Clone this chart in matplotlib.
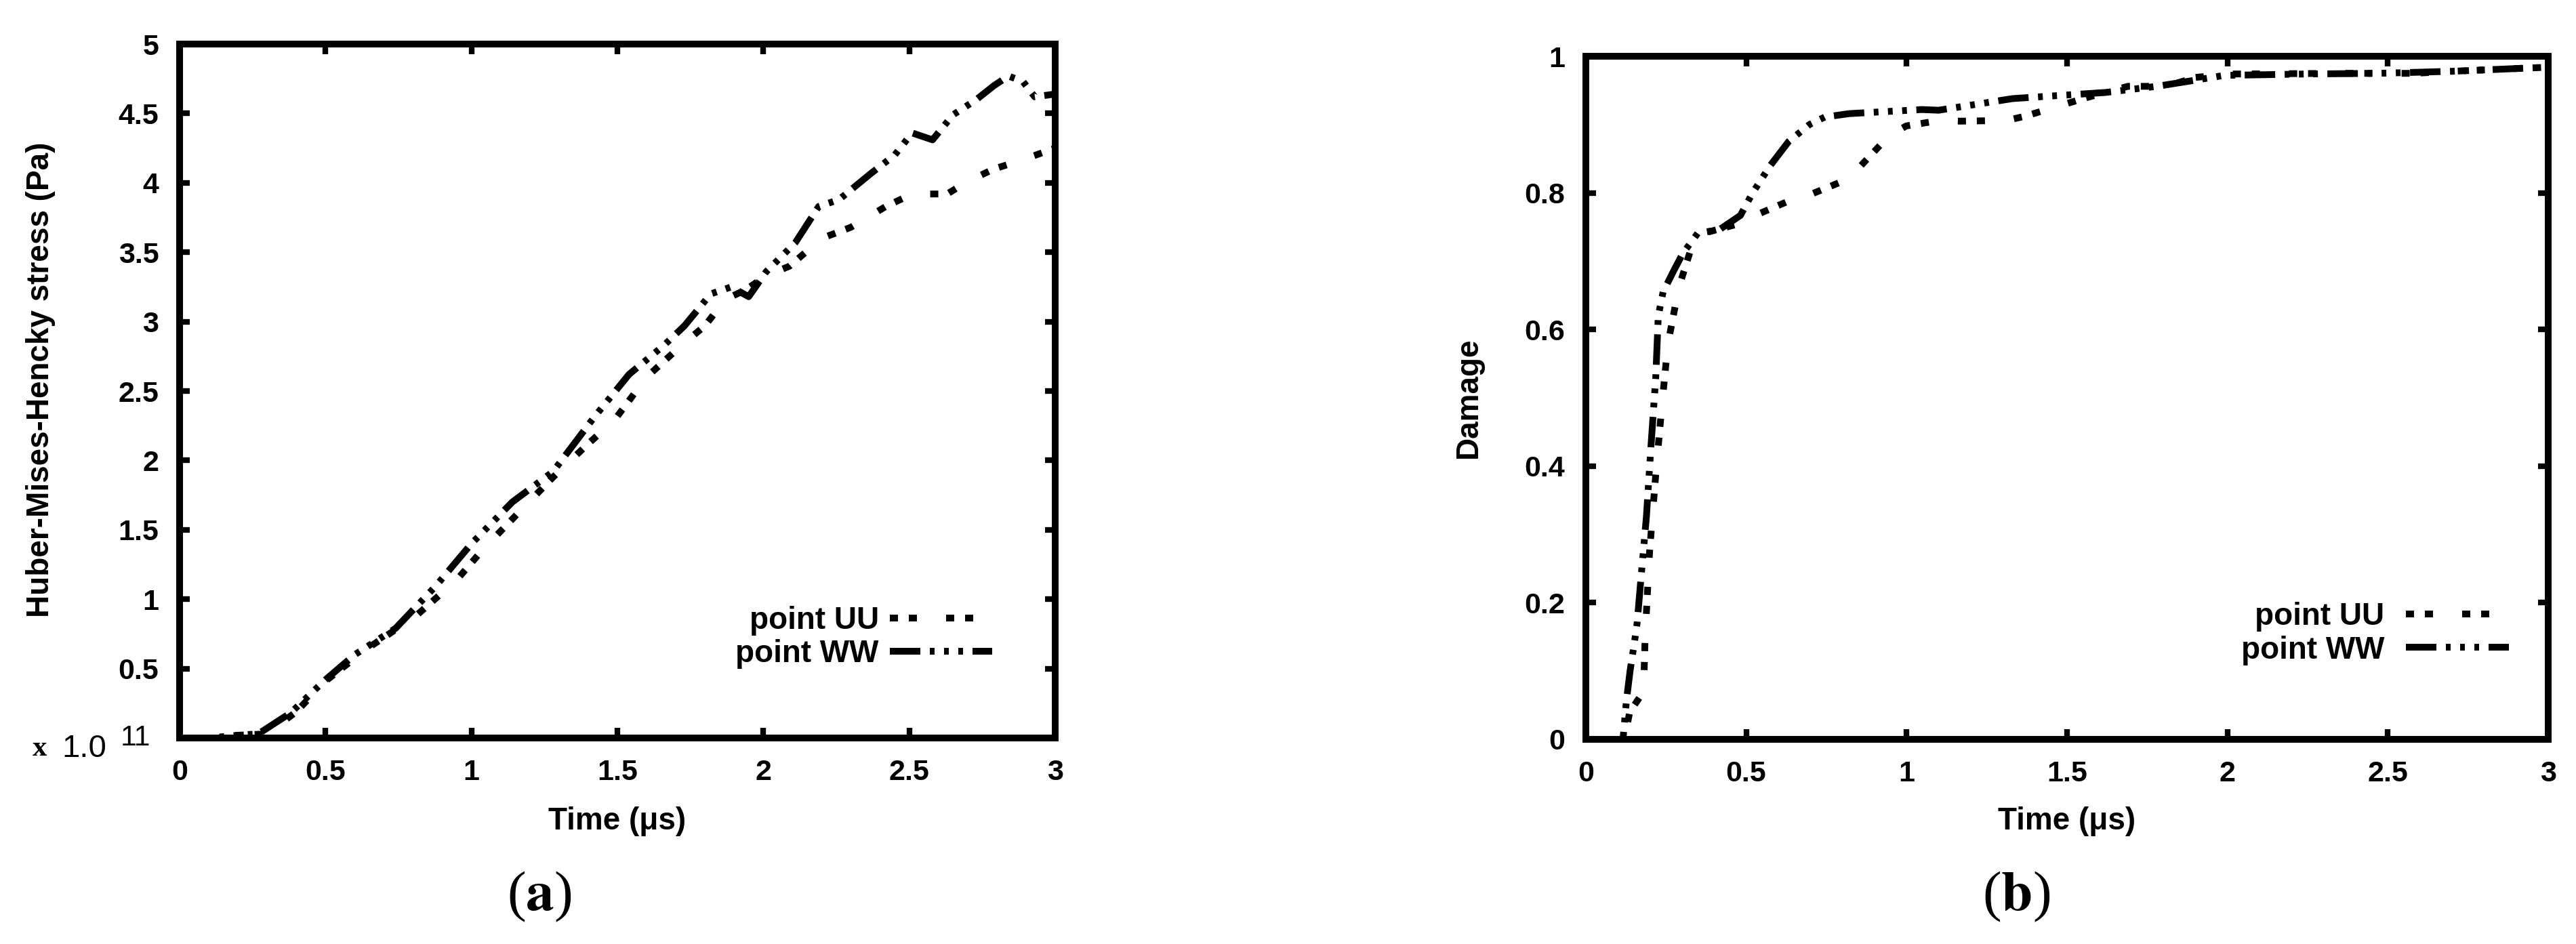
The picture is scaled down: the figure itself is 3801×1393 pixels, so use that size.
"""Contrainte HMH et endommagement aux points UU et WW (style gnuplot)."""

import matplotlib.pyplot as plt

# (a) contrainte de Huber-Mises-Hencky, en 1e11 Pa
t_uu_a = [0, 0.10, 0.20, 0.30, 0.40, 0.50, 0.64, 0.81, 0.95, 1.04, 1.16, 1.28, 1.40, 1.49,
          1.60, 1.72, 1.80, 1.87, 1.94, 2.01, 2.09, 2.20, 2.30, 2.42, 2.51, 2.63, 2.70,
          2.79, 2.88, 3.0]
s_uu_a = [0, 0, 0.02, 0.03, 0.19, 0.41, 0.64, 0.88, 1.14, 1.36, 1.62, 1.88, 2.12, 2.29,
          2.60, 2.83, 2.97, 3.16, 3.23, 3.33, 3.40, 3.60, 3.68, 3.83, 3.92, 3.92, 4.01,
          4.10, 4.16, 4.25]
t_ww_a = [0, 0.10, 0.20, 0.27, 0.38, 0.50, 0.60, 0.74, 0.88, 1.00, 1.14, 1.28, 1.42, 1.54,
          1.66, 1.73, 1.82, 1.89, 1.95, 2.01, 2.11, 2.19, 2.26, 2.37, 2.45, 2.51, 2.58,
          2.65, 2.73, 2.79, 2.84, 2.89, 2.93, 3.0]
s_ww_a = [0, 0, 0.02, 0.03, 0.18, 0.42, 0.60, 0.79, 1.10, 1.40, 1.70, 1.92, 2.31, 2.62,
          2.83, 2.97, 3.20, 3.25, 3.18, 3.36, 3.57, 3.83, 3.88, 4.07, 4.20, 4.36, 4.31,
          4.49, 4.60, 4.70, 4.77, 4.73, 4.62, 4.64]

# (b) endommagement
t_uu_b = [0, 0.12, 0.137, 0.18, 0.185, 0.199, 0.218, 0.237, 0.256, 0.279, 0.293, 0.33,
          0.368, 0.471, 0.528, 0.642, 0.697, 0.811, 0.858, 0.944, 0.999, 1.103, 1.167,
          1.312, 1.367, 1.46, 1.55, 1.69, 1.81, 1.90, 2.01, 2.36, 2.58, 2.70, 3.0]
d_uu_b = [0, 0, 0.04, 0.07, 0.15, 0.276, 0.387, 0.488, 0.579, 0.635, 0.666, 0.721,
          0.741, 0.754, 0.767, 0.790, 0.797, 0.819, 0.840, 0.883, 0.898, 0.906, 0.905,
          0.906, 0.912, 0.925, 0.938, 0.956, 0.956, 0.969, 0.974, 0.975, 0.975, 0.978, 0.984]
t_ww_b = [0, 0.116, 0.127, 0.138, 0.151, 0.16, 0.17, 0.189, 0.203, 0.218, 0.226, 0.241,
          0.274, 0.302, 0.349, 0.416, 0.482, 0.52, 0.575, 0.632, 0.697, 0.745, 0.821,
          0.934, 1.048, 1.10, 1.33, 1.49, 1.62, 1.78, 1.90, 1.99, 2.24, 2.47, 2.70, 3.0]
d_ww_b = [0, 0, 0.058, 0.10, 0.14, 0.17, 0.225, 0.326, 0.428, 0.529, 0.62, 0.655,
          0.686, 0.711, 0.741, 0.746, 0.767, 0.800, 0.840, 0.875, 0.900, 0.911, 0.916,
          0.919, 0.922, 0.921, 0.938, 0.943, 0.947, 0.956, 0.965, 0.972, 0.974, 0.975,
          0.978, 0.984]

x_ticks = [0, 0.5, 1, 1.5, 2, 2.5, 3]
x_tick_labels = ["0", "0.5", "1", "1.5", "2", "2.5", "3"]
y_ticks_a = [0, 0.5, 1, 1.5, 2, 2.5, 3, 3.5, 4, 4.5, 5]
y_tick_labels_a = ["", "0.5", "1", "1.5", "2", "2.5", "3", "3.5", "4", "4.5", "5"]
y_ticks_b = [0, 0.2, 0.4, 0.6, 0.8, 1]
y_tick_labels_b = ["0", "0.2", "0.4", "0.6", "0.8", "1"]

LW = 7.2
UU_DASH = (0, (1.2, 1.6, 1.2, 4.3))
WW_DASH = (0, (4.5, 1.4, 0.7, 1.4, 0.7, 1.4, 0.7, 1.4))
FS = 31


def style_axes(ax, yticks, ylabels):
    ax.set_xlim(0, 3)
    ax.set_xticks(x_ticks)
    ax.set_xticklabels(x_tick_labels)
    ax.set_yticks(yticks)
    ax.set_yticklabels(ylabels)
    ax.tick_params(which="both", direction="in", top=True, right=True,
                   length=11, width=6, labelsize=FS, pad=22)
    for lab in ax.get_xticklabels() + ax.get_yticklabels():
        lab.set_fontweight("bold")
    for spine in ax.spines.values():
        spine.set_linewidth(LW)
    ax.set_xlabel("Time (μs)", fontsize=33, fontweight="bold", va="center")
    ax.xaxis.set_label_coords(0.5, -0.12)


def draw_panel(ax, t_uu, v_uu, t_ww, v_ww, legend_anchor, textpad):
    ax.plot(t_uu, v_uu, color="black", linewidth=LW, linestyle=UU_DASH, label="point UU")
    ax.plot(t_ww, v_ww, color="black", linewidth=LW, linestyle=WW_DASH, label="point WW")
    ax.legend(loc="center left", bbox_to_anchor=legend_anchor, frameon=False,
              markerfirst=False, handlelength=3.3, handletextpad=textpad,
              borderpad=0, borderaxespad=0, labelspacing=0.12,
              prop={"family": "Liberation Sans", "weight": "bold", "size": 33})


def main():
    plt.rcParams["font.family"] = ["Liberation Sans", "DejaVu Sans"]
    plt.rcParams["mathtext.fontset"] = "stix"

    fig = plt.figure(figsize=(38.01, 13.93), dpi=100)
    ax_a = fig.add_axes([0.0697, 0.2182, 0.3399, 0.7351])
    ax_b = fig.add_axes([0.6156, 0.2168, 0.3736, 0.7236])

    draw_panel(ax_a, t_uu_a, s_uu_a, t_ww_a, s_ww_a, (0.635, 0.145), 0.35)
    ax_a.set_ylim(0, 5)
    style_axes(ax_a, y_ticks_a, y_tick_labels_a)
    ax_a.set_ylabel("Huber-Mises-Hencky stress (Pa)", fontsize=33, fontweight="bold",
                    va="center")
    ax_a.yaxis.set_label_coords(-0.159, 0.516)

    draw_panel(ax_b, t_uu_b, d_uu_b, t_ww_b, d_ww_b, (0.681, 0.155), 0.7)
    ax_b.set_ylim(0, 1)
    style_axes(ax_b, y_ticks_b, y_tick_labels_b)
    ax_b.set_ylabel("Damage", fontsize=33, fontweight="bold", va="center")
    ax_b.yaxis.set_label_coords(-0.122, 0.5)

    # facteur d'échelle de l'axe des contraintes, placé comme dans gnuplot
    fig.text(0.0153, 0.207, "x", family="Liberation Serif", fontweight="bold",
             fontsize=FS, ha="center", va="center")
    fig.text(0.0328, 0.207, "1.0", fontsize=34, ha="center", va="center")
    fig.text(0.0468, 0.218, "11", fontsize=FS, ha="left", va="center")

    fig.text(0.2094, 0.05, r"($\mathbf{a}$)", family="Liberation Serif",
             fontsize=60, ha="center", va="center")
    fig.text(0.7827, 0.05, r"($\mathbf{b}$)", family="Liberation Serif",
             fontsize=60, ha="center", va="center")

    fig.savefig("out.png", dpi=100, facecolor="white")
    plt.close(fig)


if __name__ == "__main__":
    main()
